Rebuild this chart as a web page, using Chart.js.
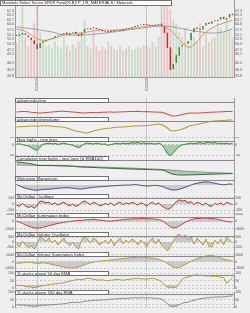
<!DOCTYPE html>
<html><head><meta charset="utf-8">
<script src="https://cdn.jsdelivr.net/npm/chart.js@4.4.1/dist/chart.umd.min.js"></script>
<style>
html,body{margin:0;padding:0;background:#efefef;width:250px;height:313px;overflow:hidden;position:relative;}
canvas{position:absolute;left:0;}
</style></head><body>
<script>
const dates = ['2018-10-25','2018-11-04','2018-11-14','2018-11-24','2018-12-04','2018-12-14','2018-12-24','2019-01-03','2019-01-13','2019-01-23',
'2019-02-02','2019-02-12','2019-02-22','2019-03-04','2019-03-14','2019-03-24','2019-04-03','2019-04-13','2019-04-23','2019-05-03',
'2019-05-13','2019-05-23','2019-06-02','2019-06-12','2019-06-22','2019-07-02','2019-07-12','2019-07-22','2019-08-01','2019-08-11',
'2019-08-21','2019-08-31','2019-09-10','2019-09-20','2019-09-30','2019-10-10','2019-10-20','2019-10-30','2019-11-09','2019-11-19',
'2019-11-29','2019-12-09','2019-12-19','2019-12-29','2020-01-08','2020-01-18','2020-01-28','2020-02-07','2020-02-17','2020-02-27',
'2020-03-08','2020-03-18','2020-03-28','2020-04-07','2020-04-17','2020-04-27','2020-05-07','2020-05-17','2020-05-27','2020-06-06',
'2020-06-16','2020-06-26','2020-07-06','2020-07-16','2020-07-26','2020-08-05','2020-08-15','2020-08-25','2020-09-04','2020-09-14',
'2020-09-24','2020-10-04','2020-10-14','2020-10-24'];

const closes = [54.4,55.4,56.0,54.9,53.9,52.4,50.3,47.7,50.8,51.8,
52.4,52.9,53.4,54.4,54.9,55.4,56.0,55.4,56.0,56.5,
55.4,54.4,56.0,58.0,58.0,58.5,58.5,58.0,57.5,57.0,
56.5,57.0,56.5,57.5,57.5,57.0,58.0,58.0,58.5,59.1,
59.6,60.1,60.1,60.6,60.1,59.6,60.1,60.1,60.6,59.6,
56.0,48.2,36.9,40.0,44.6,48.7,49.8,50.3,51.8,56.0,
58.5,58.0,57.5,59.6,61.1,60.6,62.1,62.1,62.7,64.2,
63.2,63.7,65.8,65.2];
const opens = [55.0,54.6,55.2,55.8,54.7,53.6,52.2,50.0,48.2,51.0,
51.6,52.6,53.0,53.6,54.6,55.0,55.5,56.2,55.2,56.2,
56.6,55.3,54.6,56.4,58.4,57.8,58.8,58.6,58.1,57.6,
56.9,56.4,57.2,56.8,57.8,57.6,57.2,58.4,58.0,58.6,
59.0,59.5,60.4,60.0,60.7,60.2,59.6,60.4,60.0,60.8,
59.4,56.2,48.6,37.4,40.6,44.2,49.2,50.6,50.6,52.2,
56.4,58.8,58.2,57.8,59.8,61.4,60.8,62.6,62.0,62.9,
64.4,63.0,64.0,65.9];
const volumes = [45,60,100,52,40,50,70,100,58,46,
40,42,38,46,40,37,52,40,34,42,
38,46,58,75,40,37,65,40,34,40,
36,46,40,37,35,40,34,37,40,35,
36,40,37,42,40,37,46,40,52,95,
100,98,88,75,70,58,52,64,46,58,
52,46,70,40,58,46,50,52,70,64,
58,76,62,52];
const ma50 = [58.0,57.8,57.5,56.8,56.0,55.0,53.9,53.0,52.4,52.2,
52.2,52.5,52.9,53.4,53.9,54.4,54.9,55.2,55.4,55.7,
56.0,56.0,56.0,56.2,56.5,56.8,57.0,57.3,57.5,57.5,
57.5,57.4,57.4,57.4,57.5,57.5,57.6,57.8,58.0,58.3,
58.5,58.8,59.1,59.3,59.6,59.7,59.7,59.8,59.8,59.6,
59.1,58.3,57.5,56.0,54.4,52.6,50.8,49.5,48.6,48.8,
49.8,51.5,53.4,55.0,56.5,57.5,58.5,59.3,60.1,60.6,
61.1,61.6,62.1,62.7];
const ma200 = [59.1,59.0,58.8,58.6,58.4,58.2,58.0,57.8,57.5,57.3,
57.0,56.8,56.5,56.2,55.6,55.3,55.1,55.0,54.9,54.9,
54.9,54.9,55.0,55.0,55.1,55.2,55.3,55.5,55.6,55.8,
56.0,56.2,56.4,56.6,56.8,57.0,57.2,57.4,57.6,57.8,
58.0,58.2,58.4,58.6,58.8,59.0,59.2,59.4,59.5,59.6,
59.6,59.5,59.3,59.1,58.8,58.5,58.2,57.9,57.6,57.3,
57.0,56.8,56.6,56.4,56.2,56.0,56.0,56.0,56.1,56.3,
56.6,57.0,57.5,58.0];
const priceTicks = [67.3,65.2,62.7,60.6,57.5,55.1,52.9,50.3,47.2,45.1,40.5,36.9,33.8];

const adLine = [-10,-9.5,-9,-9,-9.5,-10.5,-11,-11.5,-12,-11.5,
-11,-10.5,-10,-9.5,-9,-8.5,-8.5,-9,-9.5,-10,
-10.5,-11,-11.5,-12,-11.5,-11,-11,-11.5,-11,-10.5,
-10.5,-10,-10,-10.5,-10,-10,-9.5,-9.5,-9,-9,
-9,-8.5,-9,-9.5,-9,-9.5,-10,-10,-10.5,-10.5,
-12,-14.5,-17,-18,-17.5,-16.5,-15,-13.5,-12.5,-12,
-12,-12.5,-12,-11.5,-11,-10.5,-10.5,-10,-10,-9.5,
-9.5,-9,-9,-9];
const adVolume = [-2,-1.5,-1,-1,-0.5,0,0,-0.5,0,0.5,
0.5,0,-0.5,-1,-1.5,-2,-2.5,-4,-6,-8,
-10,-11,-12,-13.5,-14,-12,-10,-8.5,-7,-6,
-5,-4.5,-4,-3,-2.5,-2,-2,-1.5,-1,-0.5,
0,0,0.5,0.5,1,1.5,2.5,3.5,4,3,
0,-4,-9,-10,-9,-8,-6,-4,-1,1,
2,3,4.5,6,7,8.5,9.5,10,10.5,11,
11,11.5,12,12];
const newHighsLows = [5,10,2,-5,-10,-25,-40,-50,-20,5,
10,15,8,12,5,10,15,8,3,-5,
-15,-25,-10,10,15,12,8,15,10,5,
8,-5,3,10,12,8,15,10,12,18,
15,20,12,18,10,15,10,8,15,5,
-30,-80,-99,-70,-40,-15,0,5,10,15,
10,15,20,12,18,25,15,20,12,15,
10,15,8,12];
const cumNHNL = [-200,-250,-300,-380,-450,-550,-700,-850,-900,-900,
-880,-870,-880,-900,-920,-930,-950,-980,-1000,-1050,
-1100,-1180,-1220,-1230,-1250,-1270,-1300,-1320,-1350,-1380,
-1400,-1430,-1450,-1470,-1500,-1520,-1540,-1560,-1580,-1600,
-1620,-1640,-1660,-1680,-1700,-1720,-1740,-1760,-1780,-1800,
-1900,-2200,-2500,-2650,-2750,-2800,-2800,-2790,-2780,-2760,
-2750,-2740,-2720,-2700,-2680,-2660,-2640,-2620,-2600,-2580,
-2560,-2540,-2520,-2500];
const cumEma100 = [-800,-810,-820,-830,-840,-850,-860,-870,-880,-890,
-900,-915,-930,-945,-960,-975,-990,-1005,-1020,-1035,
-1050,-1070,-1090,-1110,-1130,-1150,-1170,-1190,-1210,-1230,
-1250,-1270,-1290,-1310,-1330,-1350,-1370,-1390,-1410,-1430,
-1450,-1475,-1500,-1525,-1550,-1575,-1600,-1625,-1650,-1675,
-1700,-1750,-1800,-1850,-1900,-1950,-1990,-2030,-2070,-2110,
-2150,-2180,-2210,-2240,-2270,-2300,-2320,-2340,-2360,-2380,
-2400,-2420,-2435,-2450];
const weinstein = [0.3,-0.5,-1.2,-1.8,-2.2,-2.5,-2.8,-2.9,-2.7,-2.5,
-2.4,-2.3,-2.2,-2.0,-1.8,-1.7,-1.6,-1.5,-1.6,-1.8,
-2.0,-2.2,-2.3,-2.0,-1.7,-1.5,-1.3,-1.1,-1.0,-0.9,
-0.8,-0.7,-0.5,-0.4,-0.3,-0.2,-0.1,0.0,-0.1,0.1,
0.2,0.1,-0.2,-0.4,-0.6,-0.5,-0.3,-0.2,-0.4,-0.7,
-1.3,-2.0,-2.6,-2.8,-2.7,-2.4,-1.9,-1.3,-0.7,0.0,
0.6,1.0,1.3,1.6,1.7,1.6,1.3,1.0,0.6,0.3,
0.1,0.3,0.6,0.4];
const mcOsc = [-20,-40,10,-30,-60,-40,-70,-30,50,40,
20,30,-10,20,-20,10,30,-10,-30,0,
-40,-20,30,50,20,-10,30,10,-30,-20,
10,-10,20,-30,10,30,-10,20,0,30,
10,-20,20,0,-40,10,30,-10,20,-30,
-60,-90,-70,-20,40,70,50,60,20,40,
-10,30,10,-20,20,-30,-40,10,-10,20,
-20,30,10,-10];
const mcSum = [50,-100,-250,-450,-600,-750,-850,-900,-850,-750,
-650,-550,-450,-350,-250,-200,-100,-50,0,50,
100,150,150,200,250,250,300,250,200,150,
100,50,50,100,150,200,250,300,300,350,
350,350,400,400,350,350,350,300,250,150,
-100,-400,-700,-850,-800,-600,-350,-100,100,250,
350,400,400,450,450,400,400,350,300,200,
100,0,-50,-50];
const mcVolOsc = [-200,-500,100,-300,-600,-400,-700,-200,500,300,
100,400,-100,200,-300,100,400,-100,-400,0,
-500,-700,200,600,300,-100,400,200,-300,-100,
200,-200,300,-400,100,400,-200,200,-100,300,
100,-300,200,-100,-500,100,400,-200,300,-300,
-600,-900,-500,100,600,800,500,700,200,500,
-200,400,100,-300,300,-400,-500,200,-200,300,
-300,500,200,-100];
const mcVolSum = [-300,-250,-200,-150,-100,-150,-250,-300,-250,-200,
-250,-350,-450,-550,-650,-750,-850,-950,-1000,-1000,
-950,-850,-700,-500,-350,-200,-100,0,50,100,
150,200,250,300,350,400,450,500,550,600,
650,700,700,650,600,550,500,450,350,200,
0,-300,-600,-900,-1000,-900,-700,-450,-200,50,
250,450,600,750,850,900,900,850,700,550,
400,250,150,50];
const pct50 = [20,15,18,10,8,5,3,5,12,15,
18,22,25,28,30,32,35,40,45,50,
55,58,55,60,65,62,58,55,52,55,
50,48,52,55,58,55,52,55,58,60,
62,65,60,62,58,62,65,60,55,40,
20,5,1,2,3,30,60,70,72,80,
85,88,82,85,80,82,78,80,76,72,
70,30,50,68];
const pct200 = [15,12,14,10,8,6,5,6,10,12,
12,14,15,17,18,20,22,25,28,30,
32,30,33,38,40,42,45,44,46,48,
47,50,52,54,55,57,58,57,60,60,
62,60,62,61,60,62,60,58,57,52,
40,20,5,3,6,15,25,30,32,40,
45,50,55,58,60,62,65,66,68,66,
68,70,72,74];

const FONT = '"Liberation Sans", Arial, sans-serif';
Chart.defaults.font.family = FONT;
const tickFont = {size: 3.6, family: FONT};
const yearStarts = dates.map((d,i)=> (i>0 && d.slice(0,4)!==dates[i-1].slice(0,4)) ? i : -1).filter(i=>i>=0);
const yearGrid = ctx => yearStarts.includes(ctx.index) ? '#c6c6c6' : 'rgba(0,0,0,0)';

const panelBox = {
  id: 'panelBox',
  afterDraw(chart, args, o) {
    const {ctx, chartArea} = chart;
    ctx.save();
    if (o.sep) {
      ctx.strokeStyle = '#8a8a8a'; ctx.lineWidth = 1;
      ctx.beginPath(); ctx.moveTo(o.x1, o.h - 0.5); ctx.lineTo(chartArea.right, o.h - 0.5); ctx.stroke();
    }
    ctx.fillStyle = '#ffffff'; ctx.fillRect(o.x0, 0, o.x1 - o.x0, o.h);
    ctx.strokeStyle = '#707070'; ctx.lineWidth = 1;
    ctx.strokeRect(o.x0 + 0.5, 0.5, o.x1 - o.x0 - 1, o.h - 1);
    ctx.fillStyle = '#222'; ctx.font = o.font; ctx.textBaseline = 'middle';
    ctx.fillText(o.text, o.x0 + 2, o.h / 2 + 0.3);
    ctx.restore();
  }
};

function mkCanvas(top, height) {
  const c = document.createElement('canvas');
  c.width = 250; c.height = height;
  c.style.top = top + 'px'; c.style.width = '250px'; c.style.height = height + 'px';
  document.body.appendChild(c);
  return c;
}

function yAxis(pos, w, min, max, ticks, grid, labelFn) {
  return {
    type: 'linear', position: pos, min: min, max: max,
    afterBuildTicks: s => { s.ticks = (ticks || []).map(v => ({value: v})); },
    afterFit: s => { s.width = w; s.paddingTop = 0; s.paddingBottom = 0; },
    ticks: {display: !!ticks, font: tickFont, color: '#555', padding: 1, autoSkip: false,
            callback: v => labelFn ? labelFn(v) : String(v)},
    grid: {display: !!grid, color: '#c9c9c9', drawTicks: false, lineWidth: 1},
    border: {display: true, color: '#9a9a9a', dash: grid === 'dash' ? [2, 2] : []}
  };
}

// ---------- main price panel ----------
(function () {
  const c = mkCanvas(0, 98);
  const up = closes.map((v, i) => v >= opens[i]);
  new Chart(c, {
    type: 'bar',
    data: {
      labels: dates,
      datasets: [
        {type: 'bar', data: volumes, yAxisID: 'yv', grouped: false, order: 10,
         backgroundColor: up.map(u => u ? 'rgba(130,195,130,0.38)' : 'rgba(228,130,130,0.38)'),
         barPercentage: 0.6, categoryPercentage: 1},
        {type: 'bar', data: opens.map((o, i) => [o, closes[i]]), yAxisID: 'y', grouped: false, order: 1,
         backgroundColor: up.map(u => u ? '#2f8f2f' : '#c43030'), borderSkipped: false,
         barPercentage: 0.5, categoryPercentage: 1},
        {type: 'line', data: ma50, yAxisID: 'y', borderColor: '#e39066', borderWidth: 1, pointRadius: 0, order: 2},
        {type: 'line', data: ma200, yAxisID: 'y', borderColor: '#9c9cae', borderWidth: 1, pointRadius: 0, order: 3}
      ]
    },
    options: {
      responsive: false, animation: false, devicePixelRatio: 1, events: [],
      layout: {padding: 0},
      plugins: {legend: {display: false}, tooltip: {enabled: false},
        panelBox: {text: 'Materials Select Sector SPDR Fund(XLB)/ P_US_MATERIALS / Materials', x0: 0, x1: 172, h: 6,
                   font: '4px ' + FONT, sep: false}},
      scales: {
        x: {type: 'category', offset: true,
            grid: {offset: false, drawTicks: false, color: yearGrid},
            ticks: {autoSkip: false, minRotation: 90, maxRotation: 90, font: tickFont, color: '#555', padding: 1,
                    callback: (v, i) => yearStarts.includes(i) ? dates[i].slice(5, 7) + '/' + dates[i].slice(0, 4) : ''},
            border: {display: true, color: '#9a9a9a'},
            afterFit: s => { s.height = 21; s.paddingLeft = 0; s.paddingRight = 0; }},
        y: yAxis('left', 15, 33.3, 73.0, priceTicks, false, v => v.toFixed(1)),
        yR: yAxis('right', 16, 33.3, 73.0, priceTicks, false, v => v.toFixed(1)),
        yv: {type: 'linear', display: false, min: 0, max: 100}
      }
    },
    plugins: [panelBox]
  });
})();

// ---------- sub panels ----------
function panel(top, height, o) {
  const c = mkCanvas(top, height);
  new Chart(c, {
    type: 'line',
    data: {labels: dates, datasets: o.datasets.map(d => Object.assign({yAxisID: 'y', pointRadius: 0, borderWidth: 1, tension: 0}, d))},
    options: {
      responsive: false, animation: false, devicePixelRatio: 1, events: [],
      layout: {padding: {top: o.padTop || 0, bottom: o.padBottom || 0, left: 0, right: 0}},
      plugins: {legend: {display: false}, tooltip: {enabled: false},
        panelBox: {text: o.title, x0: 15, x1: 109, h: 5, font: '4.2px ' + FONT, sep: true}},
      scales: {
        x: {type: 'category', offset: true,
            grid: {offset: false, drawTicks: false, color: yearGrid},
            ticks: {display: false}, border: {display: false},
            afterFit: s => { s.height = 0; s.paddingLeft = 0; s.paddingRight = 0; }},
        y: yAxis('left', 15, o.min, o.max, o.ticks, o.grid, o.labelFn),
        yR: yAxis('right', 16, o.min, o.max, o.ticks, false, o.labelFn)
      }
    },
    plugins: [panelBox]
  });
}
const grayFill = {target: {value: 0}, above: 'rgba(150,150,150,0.42)', below: 'rgba(150,150,150,0.42)'};
const pctLabel = v => (v === 100 || v === 50 || v === 0) ? String(v) : '';

panel(98, 19, {title: 'advancedecline', min: -20, max: 18,
  datasets: [{data: adLine, borderColor: '#e04848', borderWidth: 1.2}]});
panel(117, 20, {title: 'advancedeclinevolume', min: -22, max: 18,
  datasets: [{data: adVolume, borderColor: '#b39d35', borderWidth: 1.2}]});
panel(137, 19, {title: 'New highs - new lows', min: -100, max: 70, ticks: [66, 0, -99], grid: 'dash',
  datasets: [{data: newHighsLows, borderColor: '#2e8b2e',
              fill: {target: {value: 0}, above: 'rgba(46,139,46,0.25)', below: 'rgba(46,139,46,0.35)'}}]});
panel(156, 20, {title: 'Cumulative new highs - new lows (& EMA100)', min: -3000, max: 1000,
  datasets: [{data: cumNHNL, borderColor: '#2d6b2d',
              fill: {target: 1, above: 'rgba(140,140,140,0.45)', below: 'rgba(100,160,100,0.45)'}},
             {data: cumEma100, borderColor: '#8e8e8e'}]});
panel(176, 18, {title: 'Weinstein Momentum', min: -5, max: 5,
  datasets: [{data: weinstein, borderColor: '#46527e', fill: grayFill}]});
panel(194, 19, {title: 'McClellan Oscillator', min: -150, max: 150, padTop: 1, ticks: [100, 0, -100], grid: 'dash',
  datasets: [{data: mcOsc, borderColor: '#b3382a', fill: grayFill}]});
panel(213, 19, {title: 'McClellan Summation Index', min: -1400, max: 1130, ticks: [1000, 0, -1000], grid: 'dash',
  datasets: [{data: mcSum, borderColor: '#c0403a', fill: grayFill}]});
panel(232, 20, {title: 'McClellan Volume Oscillator', min: -1000, max: 1000, ticks: [500, 0, -500], grid: 'dash',
  datasets: [{data: mcVolOsc, borderColor: '#b39d35', fill: grayFill}]});
panel(252, 19, {title: 'McClellan Volume Summation Index', min: -1460, max: 1460, ticks: [1000, 0, -1000], grid: 'dash',
  datasets: [{data: mcVolSum, borderColor: '#b39d35', fill: grayFill}]});
panel(271, 19, {title: '% stocks above 50 day EMA', min: 0, max: 100, padTop: 2, padBottom: 2,
  ticks: [100, 80, 50, 20, 0], grid: 'dash', labelFn: pctLabel,
  datasets: [{data: pct50, borderColor: '#b39d35',
              fill: {target: {value: 80}, above: 'rgba(225,120,120,0.55)', below: 'rgba(0,0,0,0)'}},
             {data: pct50, borderColor: 'rgba(0,0,0,0)', borderWidth: 0,
              fill: {target: {value: 20}, above: 'rgba(0,0,0,0)', below: 'rgba(150,150,150,0.45)'}}]});
panel(290, 23, {title: '% stocks above 200 day EMA', min: 0, max: 100, padTop: 2, padBottom: 6,
  ticks: [100, 80, 50, 20, 0], grid: 'dash', labelFn: pctLabel,
  datasets: [{data: pct200, borderColor: '#8c8c8c',
              fill: {target: {value: 20}, above: 'rgba(0,0,0,0)', below: 'rgba(150,150,150,0.45)'}}]});
</script>
</body></html>
